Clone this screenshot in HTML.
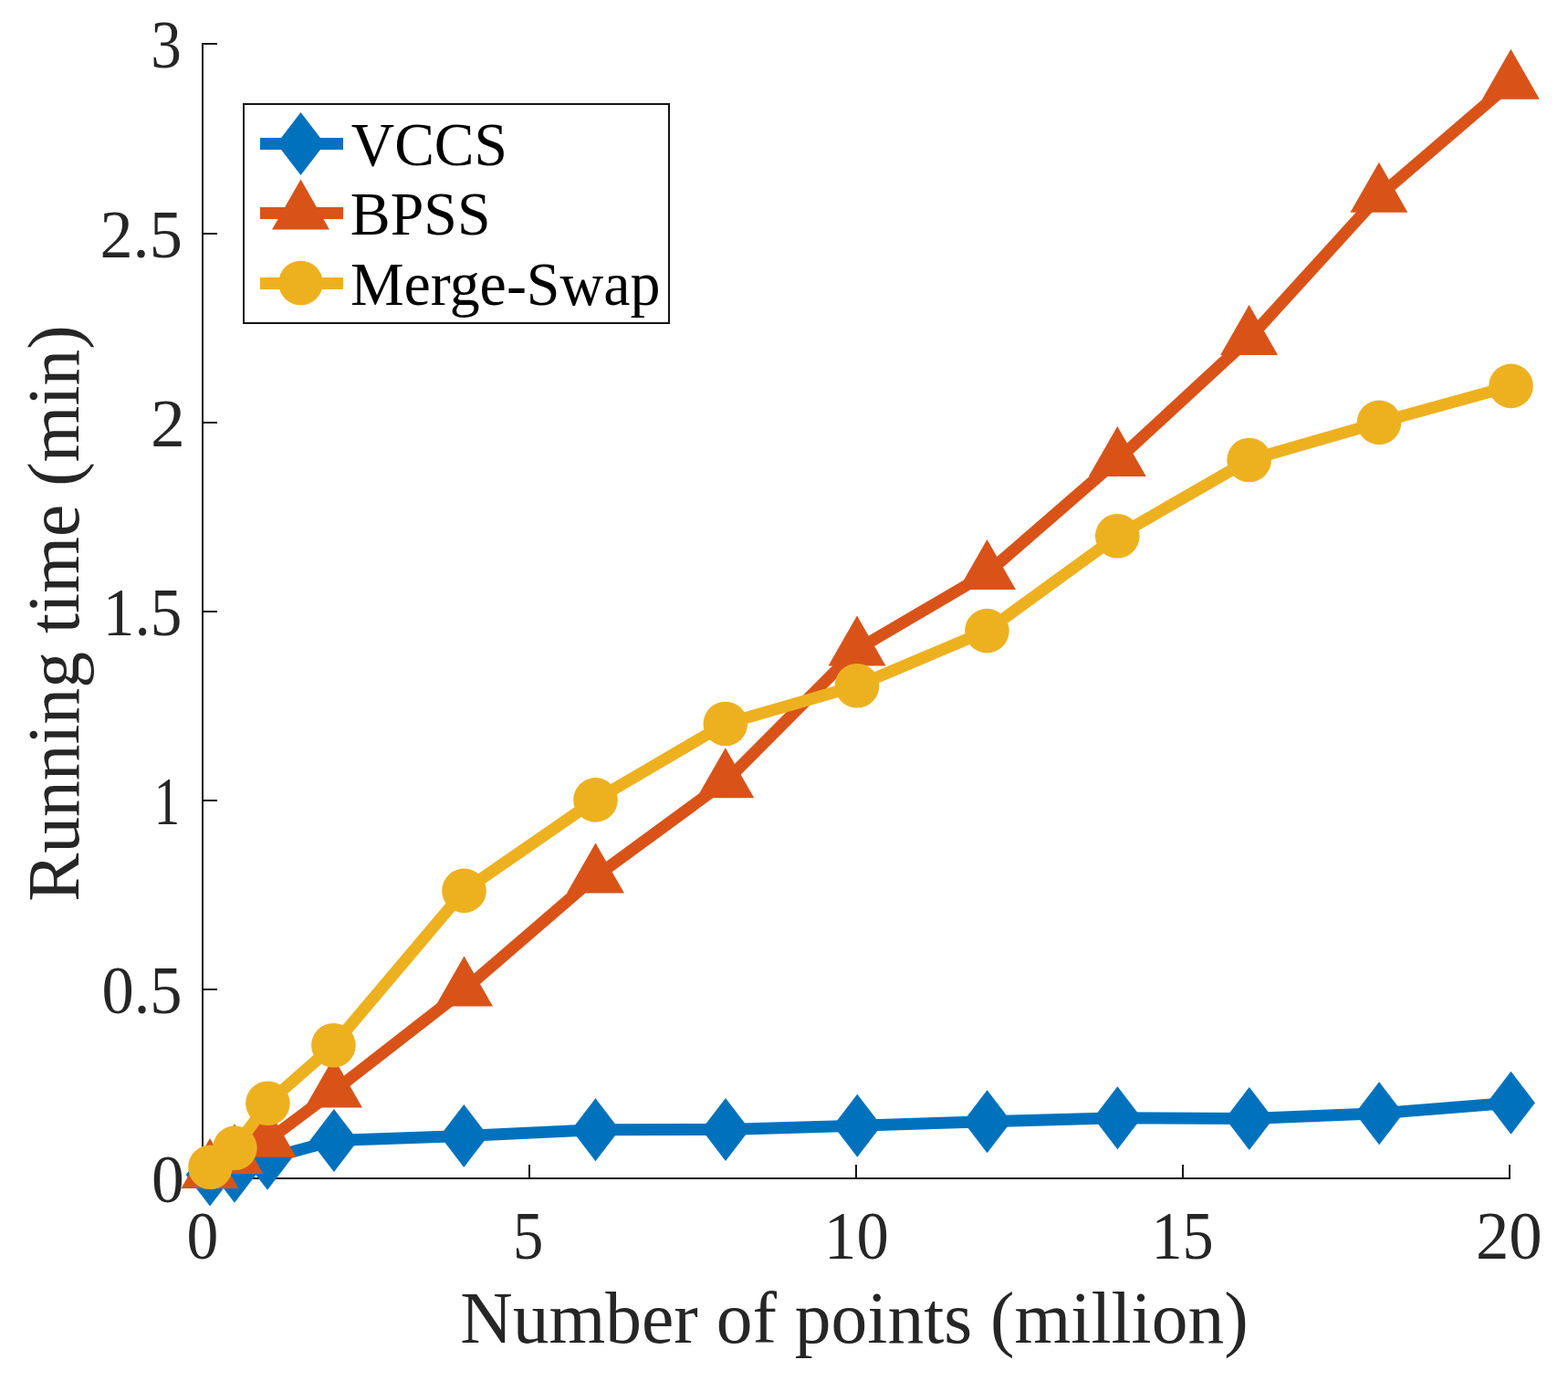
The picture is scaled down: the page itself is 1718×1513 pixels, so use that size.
<!DOCTYPE html><html><head><meta charset="utf-8"><style>html,body{margin:0;padding:0;background:#fff;}svg{display:block;}text{font-family:"Liberation Serif","Times New Roman",serif;}</style></head><body>
<svg width="1718" height="1513" viewBox="0 0 1718 1513">
<rect width="1718" height="1513" fill="#fff"/>
<g stroke="#141414" stroke-width="2" fill="none" shape-rendering="crispEdges">
<path d="M222 47 L222 1292 M221 1291 L1655 1291"/>
<path d="M221 48 L238 48"/>
<path d="M221 256 L238 256"/>
<path d="M221 463 L238 463"/>
<path d="M221 670 L238 670"/>
<path d="M221 877 L238 877"/>
<path d="M221 1084 L238 1084"/>
<path d="M221 1291 L238 1291"/>
<path d="M222 1276 L222 1292"/>
<path d="M580 1276 L580 1292"/>
<path d="M938 1276 L938 1292"/>
<path d="M1296 1276 L1296 1292"/>
<path d="M1654 1276 L1654 1292"/>
</g>
<g fill="#262626" font-size="74">
<text transform="matrix(0.9067 0 0 1 17.39 0)" x="200" y="74" text-anchor="end">3</text>
<text transform="matrix(0.9767 0 0 1 4.48 0)" x="200" y="282" text-anchor="end">2.5</text>
<text transform="matrix(1.0233 0 0 1 -1.77 0)" x="200" y="489" text-anchor="end">2</text>
<text transform="matrix(0.9373 0 0 1 12.04 0)" x="200" y="696" text-anchor="end">1.5</text>
<text transform="matrix(0.7654 0 0 1 43.88 0)" x="200" y="903" text-anchor="end">1</text>
<text transform="matrix(0.9529 0 0 1 8.98 0)" x="200" y="1110" text-anchor="end">0.5</text>
<text transform="matrix(0.9677 0 0 1 8.25 0)" x="200" y="1317" text-anchor="end">0</text>
<text transform="matrix(0.9406 0 0 1 13.13 0)" x="222" y="1379" text-anchor="middle">0</text>
<text transform="matrix(0.9000 0 0 1 56.60 0)" x="580" y="1379" text-anchor="middle">5</text>
<text transform="matrix(0.9547 0 0 1 42.94 0)" x="938" y="1379" text-anchor="middle">10</text>
<text transform="matrix(0.9219 0 0 1 100.81 0)" x="1296" y="1379" text-anchor="middle">15</text>
<text transform="matrix(0.9838 0 0 1 26.11 0)" x="1654" y="1379" text-anchor="middle">20</text>
</g>
<text x="936" y="1471" text-anchor="middle" font-size="79.5" fill="#262626">Number of points (million)</text>
<text transform="translate(86 672) rotate(-90)" x="0" y="0" text-anchor="middle" font-size="79.5" fill="#262626">Running time (min)</text>
<path d="M230 1287 L257 1283.3 L293 1269.3 L365.9 1249.5 L508.3 1244.4 L652.5 1237.7 L795 1237.6 L939.3 1233.3 L1081.6 1228.7 L1224.4 1224.7 L1368.8 1225.6 L1511.1 1219.85 L1655.5 1208.3" fill="none" stroke="#0072BD" stroke-width="13" stroke-linejoin="round" stroke-linecap="butt"/>
<g fill="#0072BD"><path d="M230 1252.5 L256.4 1287 L230 1321.5 L203.6 1287Z"/><path d="M257 1248.8 L283.4 1283.3 L257 1317.8 L230.6 1283.3Z"/><path d="M293 1234.8 L319.4 1269.3 L293 1303.8 L266.6 1269.3Z"/><path d="M365.9 1215 L392.3 1249.5 L365.9 1284 L339.5 1249.5Z"/><path d="M508.3 1209.9 L534.7 1244.4 L508.3 1278.9 L481.9 1244.4Z"/><path d="M652.5 1203.2 L678.9 1237.7 L652.5 1272.2 L626.1 1237.7Z"/><path d="M795 1203.1 L821.4 1237.6 L795 1272.1 L768.6 1237.6Z"/><path d="M939.3 1198.8 L965.7 1233.3 L939.3 1267.8 L912.9 1233.3Z"/><path d="M1081.6 1194.2 L1108 1228.7 L1081.6 1263.2 L1055.2 1228.7Z"/><path d="M1224.4 1190.2 L1250.8 1224.7 L1224.4 1259.2 L1198 1224.7Z"/><path d="M1368.8 1191.1 L1395.2 1225.6 L1368.8 1260.1 L1342.4 1225.6Z"/><path d="M1511.1 1185.35 L1537.5 1219.85 L1511.1 1254.35 L1484.7 1219.85Z"/><path d="M1655.5 1173.8 L1681.9 1208.3 L1655.5 1242.8 L1629.1 1208.3Z"/></g>
<path d="M230 1284 L257 1268 L293.1 1249.7 L365.5 1195.6 L508.5 1084.5 L652.5 960.4 L794.8 856.3 L939 711.6 L1081.5 628 L1224.3 504 L1368.6 370.9 L1510.9 214.7 L1655.4 90.7" fill="none" stroke="#D95319" stroke-width="13" stroke-linejoin="round" stroke-linecap="butt"/>
<g fill="#D95319"><path d="M230 1247 L261.5 1302 L198.5 1302Z"/><path d="M257 1231 L288.5 1286 L225.5 1286Z"/><path d="M293.1 1212.7 L324.6 1267.7 L261.6 1267.7Z"/><path d="M365.5 1158.6 L397 1213.6 L334 1213.6Z"/><path d="M508.5 1047.5 L540 1102.5 L477 1102.5Z"/><path d="M652.5 923.4 L684 978.4 L621 978.4Z"/><path d="M794.8 819.3 L826.3 874.3 L763.3 874.3Z"/><path d="M939 674.6 L970.5 729.6 L907.5 729.6Z"/><path d="M1081.5 591 L1113 646 L1050 646Z"/><path d="M1224.3 467 L1255.8 522 L1192.8 522Z"/><path d="M1368.6 333.9 L1400.1 388.9 L1337.1 388.9Z"/><path d="M1510.9 177.7 L1542.4 232.7 L1479.4 232.7Z"/><path d="M1655.4 53.7 L1686.9 108.7 L1623.9 108.7Z"/></g>
<path d="M230.4 1278.8 L257.4 1257.7 L293.4 1208.7 L365.4 1145.3 L508.5 975.9 L652.5 876.4 L794.8 793 L939 751.3 L1081.4 691.1 L1224.3 587.2 L1368.6 504 L1511 462.9 L1655.5 422.9" fill="none" stroke="#EDB120" stroke-width="13" stroke-linejoin="round" stroke-linecap="butt"/>
<g fill="#EDB120"><circle cx="230.4" cy="1278.8" r="24.3"/><circle cx="257.4" cy="1257.7" r="24.3"/><circle cx="293.4" cy="1208.7" r="24.3"/><circle cx="365.4" cy="1145.3" r="24.3"/><circle cx="508.5" cy="975.9" r="24.3"/><circle cx="652.5" cy="876.4" r="24.3"/><circle cx="794.8" cy="793" r="24.3"/><circle cx="939" cy="751.3" r="24.3"/><circle cx="1081.4" cy="691.1" r="24.3"/><circle cx="1224.3" cy="587.2" r="24.3"/><circle cx="1368.6" cy="504" r="24.3"/><circle cx="1511" cy="462.9" r="24.3"/><circle cx="1655.5" cy="422.9" r="24.3"/></g>
<rect x="267" y="114" width="466" height="240" fill="#fff" stroke="#141414" stroke-width="2" shape-rendering="crispEdges"/>
<path d="M285 157.5 L376 157.5" stroke="#0072BD" stroke-width="13"/>
<g fill="#0072BD"><path d="M329.5 123 L355.9 157.5 L329.5 192 L303.1 157.5Z"/></g>
<text transform="matrix(0.9708 0 0 1 12.06 0)" x="384" y="181" font-size="67.5" fill="#000">VCCS</text>
<path d="M285 233.5 L376 233.5" stroke="#D95319" stroke-width="13"/>
<g fill="#D95319"><path d="M329.5 196.5 L361 251.5 L298 251.5Z"/></g>
<text transform="matrix(0.9752 0 0 1 9.39 0)" x="384" y="257" font-size="67.5" fill="#000">BPSS</text>
<path d="M285 310.5 L376 310.5" stroke="#EDB120" stroke-width="13"/>
<g fill="#EDB120"><circle cx="329.5" cy="310" r="24.3"/></g>
<text transform="matrix(0.9773 0 0 1 8.68 0)" x="384" y="334" font-size="67.5" fill="#000">Merge-Swap</text>
</svg></body></html>
